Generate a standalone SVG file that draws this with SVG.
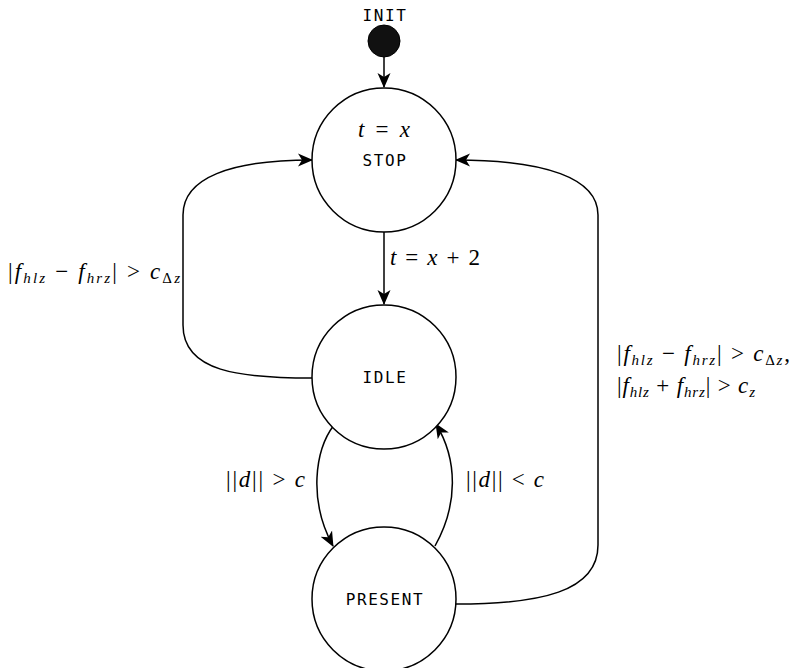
<svg xmlns="http://www.w3.org/2000/svg" width="796" height="668" viewBox="0 0 796 668">
<style>
.node{fill:#fff;stroke:#000;stroke-width:1.5}
.lbl{font-family:"DejaVu Sans Mono",monospace;font-size:16px;letter-spacing:1.6px;fill:#000;text-anchor:middle}
.m{font-family:"Liberation Serif","Times New Roman",serif;font-size:23px;fill:#000}
.i{font-style:italic}
.s{font-size:15px}
.e{stroke:#000;stroke-width:1.5;fill:none;marker-end:url(#arr)}
</style>
<defs>
<marker id="arr" markerUnits="userSpaceOnUse" markerWidth="16" markerHeight="16" viewBox="0 0 16 16" refX="14" refY="8" orient="auto">
<path d="M0,1.5 L15,8 L0,14.5 L4,8 z" fill="#000"/>
</marker>
</defs>
<g id="edges">
<path class="e" d="M384,57 L384,87"/>
<path class="e" d="M384,232 L384,304"/>
<path class="e" d="M312,378 C240,378 183,372 183,325 L183,215 C183,178 230,160 312,160"/>
<path class="e" d="M456,604 C540,604 598,592 598,545 L598,215 C598,178 545,160 456,160"/>
<path class="e" d="M334,425 C315,450 308,500 333,546"/>
<path class="e" d="M435,546 C458,505 458,460 436,424"/>
</g>
<g id="edge-labels">
<text class="m" x="390" y="265" textLength="90" lengthAdjust="spacing"><tspan class="i">t</tspan> = <tspan class="i">x</tspan> + 2</text>
<text class="m" x="8" y="279" textLength="172" lengthAdjust="spacing">|<tspan class="i">f</tspan><tspan class="i s" dy="4">hlz</tspan><tspan dy="-4"> − </tspan><tspan class="i">f</tspan><tspan class="i s" dy="4">hrz</tspan><tspan dy="-4">| &gt; </tspan><tspan class="i">c</tspan><tspan class="s" dy="4">Δ</tspan><tspan class="i s">z</tspan></text>
<text class="m" x="617" y="361" textLength="173" lengthAdjust="spacing">|<tspan class="i">f</tspan><tspan class="i s" dy="4">hlz</tspan><tspan dy="-4"> − </tspan><tspan class="i">f</tspan><tspan class="i s" dy="4">hrz</tspan><tspan dy="-4">| &gt; </tspan><tspan class="i">c</tspan><tspan class="s" dy="4">Δ</tspan><tspan class="i s">z</tspan><tspan dy="-4">,</tspan></text>
<text class="m" x="617" y="393" textLength="138" lengthAdjust="spacing">|<tspan class="i">f</tspan><tspan class="i s" dy="4">hlz</tspan><tspan dy="-4"> + </tspan><tspan class="i">f</tspan><tspan class="i s" dy="4">hrz</tspan><tspan dy="-4">| &gt; </tspan><tspan class="i">c</tspan><tspan class="i s" dy="4">z</tspan></text>
<text class="m" x="226" y="487" textLength="79" lengthAdjust="spacing">||<tspan class="i">d</tspan>|| &gt; <tspan class="i">c</tspan></text>
<text class="m" x="466" y="487" textLength="78" lengthAdjust="spacing">||<tspan class="i">d</tspan>|| &lt; <tspan class="i">c</tspan></text>
</g>
<g id="init">
<text class="lbl" x="385" y="21">INIT</text>
<circle cx="384" cy="41" r="16" fill="#111" stroke="#000"/>
</g>
<g id="stop">
<circle class="node" cx="384" cy="160" r="72"/>
<text class="m" x="358" y="137" textLength="52" lengthAdjust="spacing"><tspan class="i">t</tspan> = <tspan class="i">x</tspan></text>
<text class="lbl" x="385" y="166">STOP</text>
</g>
<g id="idle">
<circle class="node" cx="384" cy="377" r="72"/>
<text class="lbl" x="385" y="383">IDLE</text>
</g>
<g id="present">
<circle class="node" cx="384" cy="599" r="72"/>
<text class="lbl" x="385" y="605">PRESENT</text>
</g>
</svg>
